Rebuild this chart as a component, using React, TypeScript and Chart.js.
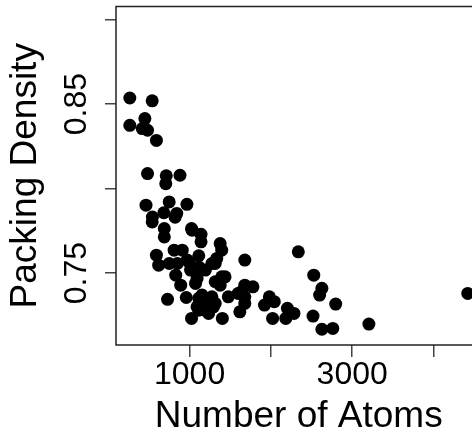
import React, { useEffect, useRef } from 'react';
import { Chart, registerables } from 'chart.js';

Chart.register(...registerables);

// Number of atoms (x) and packing density (y) for each structure
const atoms: number[] = [
  265, 540, 265, 450, 418, 483, 592, 483, 713, 707,
  882, 464, 543, 749, 683, 967, 822, 689, 689, 1031,
  1141, 1141, 592, 620, 810, 910, 749, 1376, 1395, 1679,
  2337, 971, 1113, 1113, 1274, 1334, 830, 891, 1012, 1073,
  1194, 1395, 1376, 729, 959, 1113, 1153, 1274, 1294, 1113,
  1024, 1234, 1403, 1476, 1597, 1679, 1779, 1679, 1679, 1618,
  1981, 2042, 1921, 2021, 2203, 2284, 2183, 2527, 2627, 2599,
  2797, 2518, 2627, 2761, 3205, 4421, 850, 992, 1092, 1315,
  1436, 1315, 1153, 1234, 1092, 1315, 1194, 1637, 842, 540,
  1024,
];
const density: number[] = [
  0.8536, 0.8519, 0.8374, 0.8414, 0.8355, 0.8345, 0.8285, 0.8089, 0.8076, 0.8029,
  0.8079, 0.7902, 0.7832, 0.7921, 0.7857, 0.7907, 0.7831, 0.7764, 0.7714, 0.7754,
  0.7730, 0.7685, 0.7606, 0.7547, 0.7636, 0.7636, 0.7557, 0.7675, 0.7636, 0.7577,
  0.7626, 0.7577, 0.7603, 0.7537, 0.7557, 0.7587, 0.7488, 0.7429, 0.7518, 0.7439,
  0.7518, 0.7478, 0.7429, 0.7345, 0.7356, 0.7351, 0.7321, 0.7360, 0.7301, 0.7281,
  0.7232, 0.7262, 0.7232, 0.7360, 0.7380, 0.7429, 0.7419, 0.7360, 0.7321, 0.7271,
  0.7360, 0.7331, 0.7311, 0.7232, 0.7292, 0.7262, 0.7232, 0.7488, 0.7410, 0.7370,
  0.7317, 0.7246, 0.7168, 0.7173, 0.7199, 0.7380, 0.7557, 0.7567, 0.7469, 0.7557,
  0.7478, 0.7449, 0.7370, 0.7341, 0.7301, 0.7321, 0.7281, 0.7390, 0.7853, 0.7803,
  0.7764,
];

const X_TICKS: number[] = [1000, 2000, 3000, 4000];
const X_TICK_LABELS: string[] = ['1000', '', '3000', ''];
const Y_TICKS: number[] = [0.75, 0.8, 0.85, 0.9];
const Y_TICK_LABELS: string[] = ['0.75', '', '0.85', ''];

const X_TITLE = 'Number of Atoms';
const Y_TITLE = 'Packing Density';

const X_MIN = 95;
const X_MAX = 4590;
const Y_MIN = 0.7075;
const Y_MAX = 0.9077;

const FONT_FAMILY = '"Liberation Sans", Arial, Helvetica, sans-serif';

const boxPlugin = {
  id: 'boxPlugin',
  afterDraw(chart: any) {
    const { ctx, chartArea } = chart;
    ctx.save();
    ctx.strokeStyle = '#222';
    ctx.lineWidth = 1.5;
    ctx.strokeRect(chartArea.left, chartArea.top, chartArea.right - chartArea.left, chartArea.bottom - chartArea.top);
    ctx.restore();
  },
};

export default function App() {
  const canvasRef = useRef<HTMLCanvasElement | null>(null);

  useEffect(() => {
    const canvas = canvasRef.current;
    if (!canvas) return;
    const points = atoms.map((x, i) => ({ x, y: density[i] }));
    const chart = new Chart(canvas, {
      type: 'scatter',
      data: {
        datasets: [
          {
            data: points,
            backgroundColor: '#000',
            borderWidth: 0,
            pointRadius: 6.5,
            pointHoverRadius: 6.5,
          },
        ],
      },
      options: {
        animation: false,
        responsive: false,
        events: [],
        layout: { padding: { left: 0, top: 6, right: 1, bottom: 0 } },
        plugins: {
          legend: { display: false },
          tooltip: { enabled: false },
        },
        scales: {
          x: {
            type: 'linear',
            min: X_MIN,
            max: X_MAX,
            afterBuildTicks: (s: any) => {
              s.ticks = X_TICKS.map((v) => ({ value: v }));
            },
            afterFit: (s: any) => {
              s.height = 94;
              s.paddingLeft = 0;
              s.paddingRight = 0;
            },
            ticks: {
              autoSkip: false,
              minRotation: 0,
              maxRotation: 0,
              padding: -1,
              color: '#000',
              font: { family: FONT_FAMILY, size: 32 },
              callback: (_v: any, i: number) => X_TICK_LABELS[i],
            },
            grid: {
              drawOnChartArea: false,
              drawTicks: true,
              tickLength: 12,
              color: '#444',
              lineWidth: 1.5,
            },
            border: { display: false },
            title: {
              display: true,
              text: X_TITLE,
              color: '#000',
              font: { family: FONT_FAMILY, size: 37 },
              padding: { top: 0, bottom: 0.5 },
            },
          },
          y: {
            type: 'linear',
            min: Y_MIN,
            max: Y_MAX,
            afterBuildTicks: (s: any) => {
              s.ticks = Y_TICKS.map((v) => ({ value: v }));
            },
            afterFit: (s: any) => {
              s.width = 116;
              s.paddingTop = 0;
              s.paddingBottom = 0;
            },
            ticks: {
              autoSkip: false,
              minRotation: 90,
              maxRotation: 90,
              crossAlign: 'center',
              padding: -3,
              color: '#000',
              font: { family: FONT_FAMILY, size: 32 },
              callback: (_v: any, i: number) => Y_TICK_LABELS[i],
            },
            grid: {
              drawOnChartArea: false,
              drawTicks: true,
              tickLength: 11,
              color: '#444',
              lineWidth: 1.5,
            },
            border: { display: false },
            title: {
              display: true,
              text: Y_TITLE,
              color: '#000',
              font: { family: FONT_FAMILY, size: 37 },
              padding: { top: 4, bottom: 0 },
            },
          },
        },
      },
      plugins: [boxPlugin],
    });
    return () => chart.destroy();
  }, []);

  return (
    <div
      style={{
        position: 'fixed',
        left: 0,
        top: 0,
        width: 472,
        height: 439,
        overflow: 'hidden',
        background: '#fff',
      }}
    >
      <canvas ref={canvasRef} width={488} height={439} style={{ display: 'block' }} />
    </div>
  );
}
